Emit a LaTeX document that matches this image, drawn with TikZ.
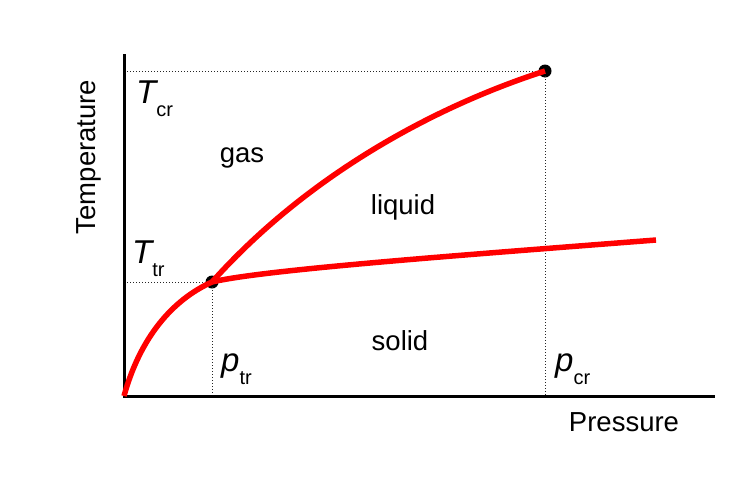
\documentclass[tikz,border=0pt]{standalone}
\usepackage{fontspec}
\setmainfont{Liberation Sans}
\newcommand{\bigsym}[2]{{\fontsize{33}{33}\selectfont\itshape #1}\raisebox{-13pt}{\fontsize{20}{20}\selectfont #2}}
\begin{document}
\begin{tikzpicture}[x=1pt,y=-1pt,
  axis/.style={line width=3pt},
  guide/.style={line width=1pt,dotted,black!85},
  phase/.style={line width=5.5pt,red},
  pt/.style={circle,fill=black,inner sep=0pt,minimum size=13pt},
  lbl/.style={font=\fontsize{27.5}{30}\selectfont,inner sep=0pt},
  sym/.style={inner sep=0pt,anchor=base west}]
\useasboundingbox[fill=white] (0,0) rectangle (754,493);
\coordinate (O) at (124,396);
\coordinate (ytop) at (124,54);
\coordinate (xend) at (715,396);
\node[pt] (tp) at (212,282) {};
\node[pt] (cp) at (545,71) {};
\coordinate (sl) at (656,240);
\coordinate (tcrL) at (124,71);
\coordinate (tcrB) at (545,396);
\coordinate (ttrL) at (124,282);
\coordinate (ttrB) at (212,396);
% guides
\draw[guide] (tcrL) -- (cp.center) -- (tcrB);
\draw[guide] (ttrL) -- (tp.center) -- (ttrB);
% axes
\draw[axis] (ytop) -- (O) -- (xend);
% phase lines
\draw[phase] (O) .. controls (140,338) and (172,300) .. (tp.center);
\draw[phase] (tp.center) .. controls (305,178) and (430,108) .. (cp.center);
\draw[phase] (tp.center) .. controls (262,270) and (450,256) .. (sl);
% labels
\node[sym] (Tcr) at (136,103) {\bigsym{T}{cr}};
\node[sym] (Ttr) at (132,263) {\bigsym{T}{tr}};
\node[sym] (ptr) at (221,371) {\bigsym{p}{tr}};
\node[sym] (pcr) at (555,371) {\bigsym{p}{cr}};
\node[lbl] (gas) at (242,158) {gas};
\node[lbl] (liq) at (403,207) {liquid};
\node[lbl] (sol) at (400,341) {solid};
\node[lbl] (pres) at (624,422) {Pressure};
\node[lbl,rotate=90] (temp) at (89,157) {Temperature};
\end{tikzpicture}
\end{document}
